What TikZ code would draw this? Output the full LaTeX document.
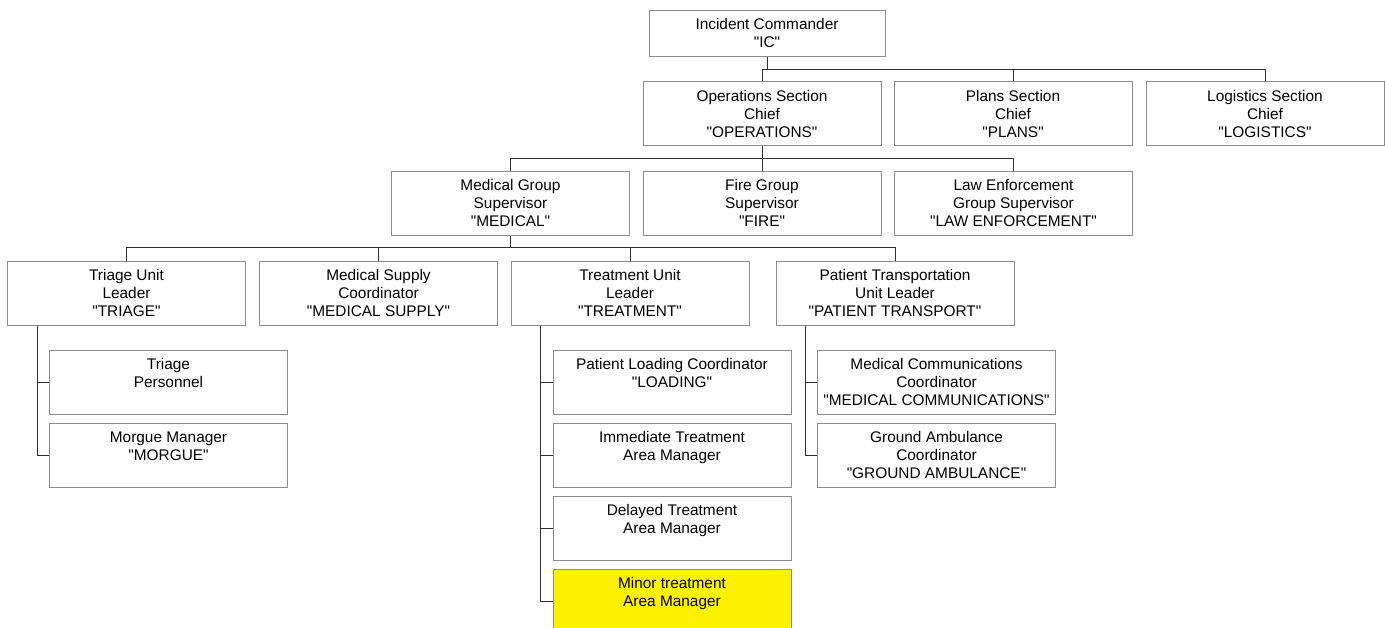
\documentclass[tikz,border=0pt]{standalone}
\usepackage{fontspec}
\setmainfont{Liberation Sans}[Ligatures=TeXOff]
\usetikzlibrary{positioning,calc}
\definecolor{boxgray}{HTML}{8C8C8C}
\definecolor{linkgray}{HTML}{303030}
\begin{document}
\begin{tikzpicture}[x=1pt,y=-1pt]
		\useasboundingbox[fill=white] (0,0) rectangle (1385,627);
		\begin{scope}[every node/.style={draw=boxgray,line width=1pt,fill=white,inner sep=0pt,
			minimum width=238pt,minimum height=64pt,align=center,
			font=\fontsize{15.4}{18}\selectfont}]
			\node[minimum width=236pt,minimum height=46pt] (ic) at (767,33) {Incident Commander\\"IC"};
			\node (ops) at (762,113.5) {Operations Section\\Chief\\"OPERATIONS"};
			\node (plans) at (1013,113.5) {Plans Section\\Chief\\"PLANS"};
			\node (logi) at (1265,113.5) {Logistics Section\\Chief\\"LOGISTICS"};

			\node (medical) at (510.5,203) {Medical Group\\Supervisor\\"MEDICAL"};
			\node (fire) at (762,203) {Fire Group\\Supervisor\\"FIRE"};
			\node (law) at (1013.5,203) {Law Enforcement\\Group Supervisor\\"LAW ENFORCEMENT"};

			\node (triage) at (126.5,293) {Triage Unit\\Leader\\"TRIAGE"};
			\node (supply) at (378.5,293) {Medical Supply\\Coordinator\\"MEDICAL SUPPLY"};
			\node (treat) at (630,293) {Treatment Unit\\Leader\\"TREATMENT"};
			\node (transport) at (895,293) {Patient Transportation\\Unit Leader\\"PATIENT TRANSPORT"};

			\node (personnel) at (168.5,382) {Triage\\Personnel\\\mbox{}};
			\node (morgue) at (168.5,455) {Morgue Manager\\"MORGUE"\\\mbox{}};

			\node (loading) at (672,382) {Patient Loading Coordinator\\"LOADING"\\\mbox{}};
			\node (immediate) at (672,455) {Immediate Treatment\\Area Manager\\\mbox{}};
			\node (delayed) at (672,528) {Delayed Treatment\\Area Manager\\\mbox{}};
			\node[fill=yellow] (minor) at (672,601) {Minor treatment\\Area Manager\\\mbox{}};

			\node (comms) at (936.5,382) {Medical Communications\\Coordinator\\"MEDICAL COMMUNICATIONS"};
			\node (ambulance) at (936.5,455) {Ground Ambulance\\Coordinator\\"GROUND AMBULANCE"};
		\end{scope}

		\coordinate (bus1) at (0,69);
		\coordinate (bus2) at (0,158);
		\coordinate (bus3) at (0,247);

		\begin{scope}[draw=linkgray,line width=1pt]
			% sections
			\draw (ic.south) -- (ic.south |- bus1);
			\draw (ops.north) |- (logi.north |- bus1) -- (logi.north);
			\draw (plans.north) -- (plans.north |- bus1);
			% groups
			\draw (ops.south) -- (fire.north);
			\draw (medical.north) |- (law.north |- bus2) -- (law.north);
			% units
			\draw (medical.south) -- (medical.south |- bus3);
			\draw (triage.north) |- (transport.north |- bus3) -- (transport.north);
			\draw (supply.north) -- (supply.north |- bus3);
			\draw (treat.north) -- (treat.north |- bus3);
			% triage
			\draw ([xshift=30pt]triage.south west) |- (personnel.west);
			\draw ([xshift=30pt]triage.south west) |- (morgue.west);
			% treatment
			\foreach \sub in {loading,immediate,delayed,minor}
				\draw ([xshift=30pt]treat.south west) |- (\sub.west);
			% transport
			\draw ([xshift=30pt]transport.south west) |- (comms.west);
			\draw ([xshift=30pt]transport.south west) |- (ambulance.west);
		\end{scope}
	\end{tikzpicture}
\end{document}
